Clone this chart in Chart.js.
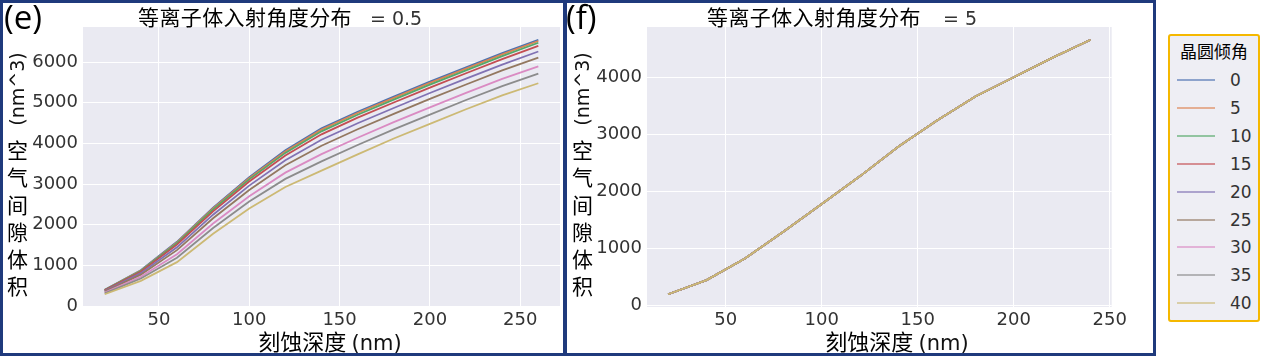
<!DOCTYPE html>
<html>
<head>
<meta charset="utf-8">
<script src="https://cdn.jsdelivr.net/npm/chart.js@4.4.1/dist/chart.umd.min.js"></script>
<style>
  body { margin: 0; width: 1269px; height: 359px; background: #fff; position: relative; overflow: hidden; font-family: "DejaVu Sans", sans-serif; }
  canvas { position: absolute; top: 0; }
  .frame { position: absolute; top: 0; height: 356px; border: 3px solid #1f3a7c; box-sizing: border-box; pointer-events: none; }
  .txt { position: absolute; white-space: nowrap; line-height: 1; color: #111; }
  .cjk { font-family: "Noto Sans CJK SC", sans-serif; color: #000; }
  .panel { font-family: "Open Sans", sans-serif; font-size: 33px; color: #000; }
  .ylab { font-size: 19px; transform: translate(-50%, -50%) rotate(-90deg); }
  .vstack { position: absolute; width: 22px; font-size: 21px; line-height: 27.3px; word-break: break-all; }
  .legend { position: absolute; left: 1168px; top: 34px; width: 92px; height: 288px; box-sizing: border-box;
            border: 2px solid #f5b800; border-radius: 3px; background: #eeeef4; }
  .legend .ttl { position: absolute; left: 0; width: 100%; top: 5px; text-align: center; font-size: 17px; line-height: 20px; font-weight: normal; }
  .legend .row { position: absolute; left: 0; width: 100%; height: 20px; }
  .legend .ln { position: absolute; left: 7px; top: 9px; width: 38px; height: 2px; opacity: 0.6; }
  .legend .lb { position: absolute; left: 60px; top: 1px; font-size: 17px; line-height: 18px; color: #333; }
</style>
</head>
<body>
<canvas id="chartE" width="565" height="340" style="left:0px"></canvas>
<canvas id="chartF" width="565" height="340" style="left:565px"></canvas>

<div class="frame" style="left:0px;width:566px"></div>
<div class="frame" style="left:564px;width:592px"></div>

<div class="txt panel" style="left:4px;top:0px">(e)</div>
<div class="txt panel" style="left:566px;top:0px">(f)</div>

<div class="txt" style="left:138px;top:6px"><span class="cjk" style="font-size:21px;letter-spacing:0.4px">等离子体入射角度分布</span><span style="font-size:19px;color:#333;margin-left:18px">= 0.5</span></div>
<div class="txt" style="left:707px;top:6px"><span class="cjk" style="font-size:21px;letter-spacing:0.4px">等离子体入射角度分布</span><span style="font-size:19px;color:#333;margin-left:22px">= 5</span></div>

<div class="txt ylab" style="left:17px;top:89px">(nm^3)</div>
<div class="vstack cjk" style="left:7px;top:136px">空气间隙体积</div>
<div class="txt ylab" style="left:582px;top:89px">(nm^3)</div>
<div class="vstack cjk" style="left:572px;top:136px">空气间隙体积</div>

<div class="txt" style="left:330px;top:329px;transform:translateX(-50%)"><span class="cjk" style="font-size:22px">刻蚀深度</span> <span style="font-size:21px">(nm)</span></div>
<div class="txt" style="left:897px;top:329px;transform:translateX(-50%)"><span class="cjk" style="font-size:22px">刻蚀深度</span> <span style="font-size:21px">(nm)</span></div>

<div class="legend" id="legend"><div class="ttl cjk">晶圆倾角</div></div>

<script>
// etch depth (nm)
const depthE = [20, 40, 60, 80, 100, 120, 140, 160, 180, 200, 220, 240, 260];
const depthF = [20, 40, 60, 80, 100, 120, 140, 160, 180, 200, 220, 240];

// wafer tilt angle categories
const tiltAngles = ['0', '5', '10', '15', '20', '25', '30', '35', '40'];
const tiltColors = ['#4c72b0', '#dd8452', '#55a868', '#c44e52', '#8172b3', '#937860', '#da8bc3', '#8c8c8c', '#ccb974'];

// (e) plasma incidence angle spread = 0.5, air gap volume (nm^3)
const volE0  = [400, 880, 1580, 2420, 3170, 3830, 4370, 4780, 5150, 5520, 5870, 6220, 6550];
const volE5  = [397, 872, 1565, 2401, 3147, 3803, 4339, 4749, 5119, 5489, 5839, 6189, 6518];
const volE10 = [392, 862, 1545, 2375, 3116, 3767, 4297, 4706, 5078, 5447, 5798, 6147, 6475];
const volE15 = [385, 844, 1510, 2330, 3062, 3704, 4224, 4633, 5006, 5374, 5726, 6074, 6400];
const volE20 = [370, 810, 1445, 2247, 2962, 3587, 4089, 4496, 4872, 5239, 5592, 5939, 6261];
const volE25 = [355, 773, 1375, 2158, 2854, 3461, 3944, 4349, 4728, 5094, 5448, 5794, 6111];
const volE30 = [333, 721, 1275, 2030, 2700, 3281, 3736, 4139, 4522, 4886, 5242, 5586, 5897];
const volE35 = [314, 677, 1190, 1921, 2569, 3128, 3559, 3961, 4347, 4709, 5067, 5409, 5715];
const volE40 = [290, 620, 1080, 1780, 2400, 2930, 3330, 3730, 4120, 4480, 4840, 5180, 5480];
const seriesE = [volE0, volE5, volE10, volE15, volE20, volE25, volE30, volE35, volE40];

// (f) spread = 5: all tilt angles give the same curve
const volF = [190, 440, 820, 1290, 1780, 2270, 2790, 3250, 3670, 4010, 4350, 4670];

// tick labels
const xTicks = [50, 100, 150, 200, 250];
const yTicksE = [0, 1000, 2000, 3000, 4000, 5000, 6000];
const yTicksF = [0, 1000, 2000, 3000, 4000];

const plotBg = {
  id: 'plotBg',
  beforeDraw(chart) {
    const { ctx, chartArea: a } = chart;
    ctx.save();
    ctx.fillStyle = '#eaeaf2';
    ctx.fillRect(a.left, a.top, a.right - a.left, a.bottom - a.top);
    ctx.restore();
  }
};

function makeChart(id, depths, seriesList, xRange, yRange, yTicks, yAxisWidth) {
  // later series are drawn on top, like matplotlib
  const datasets = seriesList.map((vals, i) => ({
    label: tiltAngles[i],
    data: depths.map((d, j) => ({ x: d, y: vals[j] })),
    borderColor: tiltColors[i],
    borderWidth: 1.8,
    pointRadius: 0,
    tension: 0,
    fill: false,
    order: -i
  }));
  const tickFont = { family: 'DejaVu Sans', size: 18 };
  return new Chart(document.getElementById(id).getContext('2d'), {
    type: 'line',
    data: { datasets },
    options: {
      responsive: false,
      animation: false,
      layout: { padding: { top: 27, right: 5, left: 0, bottom: 0 } },
      plugins: { legend: { display: false }, tooltip: { enabled: false } },
      scales: {
        x: {
          type: 'linear',
          min: xRange[0],
          max: xRange[1],
          afterBuildTicks: s => { s.ticks = xTicks.map(v => ({ value: v })); },
          afterFit: s => { s.height = 33; },
          grid: { color: '#ffffff', lineWidth: 1, drawTicks: false },
          border: { display: false },
          ticks: { font: tickFont, color: '#333', padding: 3, maxRotation: 0, callback: v => String(v) }
        },
        y: {
          type: 'linear',
          min: yRange[0],
          max: yRange[1],
          afterBuildTicks: s => { s.ticks = yTicks.map(v => ({ value: v })); },
          afterFit: s => { s.width = yAxisWidth; },
          grid: { color: '#ffffff', lineWidth: 1, drawTicks: false },
          border: { display: false },
          ticks: { font: tickFont, color: '#333', padding: 5, callback: v => String(v) }
        }
      }
    },
    plugins: [plotBg]
  });
}

makeChart('chartE', depthE, seriesE, [8, 272], [-23, 6863], yTicksE, 83);
makeChart('chartF', depthF, tiltAngles.map(() => volF), [9, 251], [-34, 4894], yTicksF, 82);

// legend
const legend = document.getElementById('legend');
tiltAngles.forEach((a, i) => {
  const row = document.createElement('div');
  row.className = 'row';
  row.style.top = (34 + i * 27.9) + 'px';
  row.innerHTML = '<div class="ln" style="background:' + tiltColors[i] + '"></div><div class="lb">' + a + '</div>';
  legend.appendChild(row);
});
</script>
</body>
</html>
